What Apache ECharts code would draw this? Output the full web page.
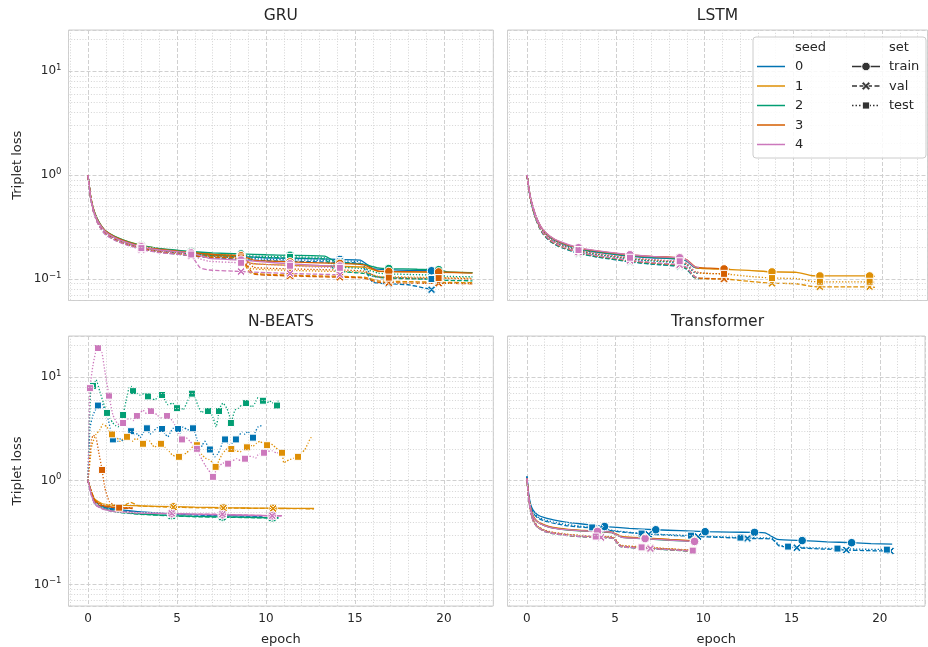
<!DOCTYPE html>
<html><head><meta charset="utf-8">
<script src="https://cdn.jsdelivr.net/npm/echarts@6/dist/echarts.min.js"></script>
<style>html,body{margin:0;padding:0;background:#fff}#c{width:928px;height:647px}</style>
</head><body><div id="c"></div>
<script>
// ---------------- categories ----------------
const PANELS = ['GRU', 'LSTM', 'N-BEATS', 'Transformer'];
const SEEDS = ['0', '1', '2', '3', '4'];
const SETS = ['train', 'val', 'test'];
const Y_TICKS = [0.1, 1, 10];

// ---------------- GRU ----------------
const GRU_train = [
  [[0,1.0],[0.15,0.62],[0.3,0.47],[0.5,0.38],[0.75,0.32],[1,0.285],[1.5,0.252],[2,0.232],[3,0.205],[4,0.192],[5.8,0.178],[7,0.17],[8.6,0.164],[10,0.16],[11.35,0.158],[13,0.156],[14.15,0.154],[15.3,0.152],[16,0.126],[16.9,0.123],[18,0.121],[19.3,0.12]],
  [[0,1.0],[0.15,0.63],[0.3,0.48],[0.5,0.385],[0.75,0.325],[1,0.29],[1.5,0.256],[2,0.236],[3,0.21],[4,0.196],[5.8,0.181],[7,0.173],[8.6,0.166],[9.1,0.142],[10,0.138],[11.35,0.135],[13,0.133],[14.15,0.132],[15.5,0.13],[16.3,0.119],[16.9,0.118],[18.5,0.117],[19.7,0.116],[21.6,0.115]],
  [[0,1.0],[0.15,0.62],[0.3,0.475],[0.5,0.385],[0.75,0.325],[1,0.29],[1.5,0.257],[2,0.237],[3,0.21],[4,0.197],[5.8,0.184],[7,0.178],[8.6,0.174],[10,0.171],[11.35,0.169],[13.3,0.166],[13.9,0.147],[14.15,0.144],[15.5,0.138],[16.3,0.128],[16.9,0.126],[18.5,0.124],[19.7,0.123],[20.2,0.117],[21.6,0.115]],
  [[0,1.0],[0.15,0.62],[0.3,0.47],[0.5,0.38],[0.75,0.322],[1,0.287],[1.5,0.254],[2,0.234],[3,0.207],[4,0.194],[5.8,0.179],[7,0.172],[8.6,0.167],[9.3,0.152],[10,0.149],[11.35,0.146],[13,0.143],[14.15,0.141],[15.5,0.137],[16.3,0.119],[16.9,0.118],[18.5,0.117],[19.7,0.117],[21.6,0.114]],
  [[0,1.0],[0.15,0.61],[0.3,0.465],[0.5,0.375],[0.75,0.318],[1,0.283],[1.5,0.25],[2,0.23],[3,0.204],[4,0.19],[5.8,0.178],[6.3,0.168],[6.8,0.158],[8.6,0.152],[10,0.145],[11.35,0.14],[13,0.135],[14.15,0.133]]
];
const GRU_val = [
  [[0,0.98],[0.15,0.6],[0.3,0.45],[0.5,0.36],[0.75,0.3],[1,0.268],[1.5,0.238],[2,0.219],[3,0.194],[4,0.181],[5.8,0.167],[7,0.16],[8.6,0.154],[10,0.15],[11.35,0.148],[13,0.146],[14.15,0.144],[15.3,0.141],[16,0.093],[16.9,0.09],[18,0.088],[18.6,0.084],[19.3,0.079]],
  [[0,0.98],[0.15,0.61],[0.3,0.46],[0.5,0.365],[0.75,0.305],[1,0.272],[1.5,0.242],[2,0.222],[3,0.198],[4,0.185],[5.8,0.17],[7,0.163],[8.6,0.157],[9.1,0.115],[10,0.111],[11.35,0.109],[13,0.107],[14.15,0.106],[15.5,0.104],[16.3,0.096],[16.9,0.095],[18.5,0.094],[19.7,0.093],[21.6,0.092]],
  [[0,0.98],[0.15,0.6],[0.3,0.455],[0.5,0.365],[0.75,0.305],[1,0.272],[1.5,0.243],[2,0.223],[3,0.198],[4,0.186],[5.8,0.173],[7,0.168],[8.6,0.164],[10,0.161],[11.35,0.159],[13.3,0.155],[13.9,0.12],[14.15,0.118],[15.5,0.113],[16.3,0.104],[16.9,0.102],[18.5,0.1],[19.7,0.099],[20.2,0.097],[21.6,0.096]],
  [[0,0.98],[0.15,0.6],[0.3,0.45],[0.5,0.36],[0.75,0.302],[1,0.27],[1.5,0.24],[2,0.221],[3,0.196],[4,0.183],[5.8,0.168],[7,0.161],[8.6,0.156],[9.3,0.112],[10,0.109],[11.35,0.107],[13,0.105],[14.15,0.104],[15.5,0.102],[16.3,0.093],[16.9,0.092],[18.5,0.091],[19.7,0.091],[21.6,0.09]],
  [[0,0.98],[0.15,0.59],[0.3,0.445],[0.5,0.355],[0.75,0.298],[1,0.265],[1.5,0.236],[2,0.217],[3,0.192],[4,0.179],[5.8,0.166],[6.3,0.128],[6.8,0.122],[8.6,0.118],[10,0.115],[11.35,0.113],[13,0.111],[14.15,0.11]]
];
const GRU_test = [
  [[0,0.99],[0.15,0.61],[0.3,0.46],[0.5,0.37],[0.75,0.31],[1,0.276],[1.5,0.245],[2,0.226],[3,0.2],[4,0.187],[5.8,0.172],[7,0.165],[8.6,0.159],[10,0.155],[11.35,0.153],[13,0.151],[14.15,0.149],[15.3,0.146],[16,0.106],[16.9,0.104],[18,0.102],[19.3,0.1]],
  [[0,0.99],[0.15,0.62],[0.3,0.47],[0.5,0.375],[0.75,0.315],[1,0.28],[1.5,0.249],[2,0.229],[3,0.204],[4,0.19],[5.8,0.175],[7,0.168],[8.6,0.162],[9.1,0.127],[10,0.123],[11.35,0.121],[13,0.119],[14.15,0.118],[15.5,0.116],[16.3,0.106],[16.9,0.105],[18.5,0.104],[19.7,0.103],[21.6,0.102]],
  [[0,0.99],[0.15,0.61],[0.3,0.465],[0.5,0.375],[0.75,0.315],[1,0.281],[1.5,0.25],[2,0.23],[3,0.204],[4,0.191],[5.8,0.178],[7,0.172],[8.6,0.168],[10,0.165],[11.35,0.163],[13.3,0.16],[13.9,0.132],[14.15,0.13],[15.5,0.125],[16.3,0.114],[16.9,0.112],[18.5,0.11],[19.7,0.109],[20.2,0.106],[21.6,0.105]],
  [[0,0.99],[0.15,0.61],[0.3,0.46],[0.5,0.37],[0.75,0.312],[1,0.278],[1.5,0.247],[2,0.227],[3,0.201],[4,0.188],[5.8,0.173],[7,0.166],[8.6,0.161],[9.3,0.13],[10,0.127],[11.35,0.125],[13,0.123],[14.15,0.122],[15.5,0.119],[16.3,0.104],[16.9,0.103],[18.5,0.102],[19.7,0.102],[21.6,0.1]],
  [[0,0.99],[0.15,0.6],[0.3,0.455],[0.5,0.365],[0.75,0.308],[1,0.274],[1.5,0.243],[2,0.223],[3,0.198],[4,0.185],[5.8,0.172],[6.3,0.156],[6.8,0.148],[8.6,0.143],[10,0.138],[11.35,0.134],[13,0.13],[14.15,0.128]]
];
const GRU_MARKS_A = [3.0, 5.8, 8.6, 11.35, 14.15, 16.9, 19.7];
const GRU_MARKS_0 = [3.0, 5.8, 8.6, 11.35, 14.15, 16.9, 19.3];
const GRU_marks = [GRU_MARKS_0, GRU_MARKS_A, GRU_MARKS_A, GRU_MARKS_A, GRU_MARKS_A];

// ---------------- LSTM ----------------
const LSTM_train = [
  [[0,1.0],[0.1,0.74],[0.2,0.59],[0.35,0.47],[0.5,0.395],[0.7,0.33],[0.9,0.29],[1.3,0.25],[1.8,0.224],[2.9,0.193],[4,0.18],[5.8,0.165],[7,0.16],[8.6,0.155],[9,0.148],[9.4,0.13],[9.7,0.127]],
  [[0,1.0],[0.1,0.75],[0.2,0.6],[0.35,0.48],[0.5,0.4],[0.7,0.335],[0.9,0.295],[1.3,0.255],[1.8,0.228],[2.9,0.197],[4,0.184],[5.8,0.169],[7,0.164],[8.6,0.159],[9,0.152],[9.5,0.128],[11.1,0.124],[12.5,0.121],[13.8,0.117],[15.2,0.116],[16,0.108],[16.5,0.107],[18,0.107],[19.3,0.107],[19.6,0.106]],
  [[0,1.0],[0.1,0.745],[0.2,0.595],[0.35,0.475],[0.5,0.398],[0.7,0.333],[0.9,0.293],[1.3,0.253],[1.8,0.226],[2.9,0.195],[4,0.182],[5.8,0.167],[7,0.162],[8.6,0.157],[9,0.15],[9.4,0.131],[9.7,0.128]],
  [[0,1.0],[0.1,0.75],[0.2,0.6],[0.35,0.48],[0.5,0.402],[0.7,0.336],[0.9,0.296],[1.3,0.256],[1.8,0.229],[2.9,0.198],[4,0.185],[5.8,0.17],[7,0.165],[8.6,0.16],[9,0.153],[9.5,0.13],[10.3,0.127],[11.1,0.125],[11.4,0.125]],
  [[0,1.0],[0.1,0.76],[0.2,0.61],[0.35,0.49],[0.5,0.405],[0.7,0.34],[0.9,0.3],[1.3,0.258],[1.8,0.231],[2.9,0.2],[4,0.186],[5.8,0.171],[7,0.165],[8.6,0.16],[9,0.152],[9.4,0.132],[9.7,0.129]]
];
const LSTM_val = [
  [[0,1.0],[0.1,0.73],[0.2,0.57],[0.35,0.45],[0.5,0.375],[0.7,0.31],[0.9,0.27],[1.3,0.23],[1.8,0.205],[2.9,0.176],[4,0.162],[5.8,0.146],[7,0.139],[8.6,0.132],[9,0.124],[9.4,0.104],[9.7,0.1]],
  [[0,1.0],[0.1,0.74],[0.2,0.58],[0.35,0.46],[0.5,0.38],[0.7,0.315],[0.9,0.275],[1.3,0.234],[1.8,0.208],[2.9,0.179],[4,0.165],[5.8,0.149],[7,0.142],[8.6,0.135],[9,0.127],[9.5,0.102],[11.1,0.1],[12.5,0.095],[13.8,0.091],[15.2,0.09],[16,0.085],[16.5,0.084],[18,0.084],[19.3,0.084],[19.6,0.083]],
  [[0,1.0],[0.1,0.735],[0.2,0.575],[0.35,0.455],[0.5,0.378],[0.7,0.313],[0.9,0.273],[1.3,0.232],[1.8,0.207],[2.9,0.177],[4,0.163],[5.8,0.147],[7,0.14],[8.6,0.133],[9,0.125],[9.4,0.105],[9.7,0.101]],
  [[0,1.0],[0.1,0.74],[0.2,0.58],[0.35,0.46],[0.5,0.382],[0.7,0.316],[0.9,0.276],[1.3,0.235],[1.8,0.209],[2.9,0.18],[4,0.166],[5.8,0.15],[7,0.143],[8.6,0.136],[9,0.128],[9.5,0.104],[10.3,0.101],[11.1,0.1],[11.4,0.1]],
  [[0,1.0],[0.1,0.745],[0.2,0.585],[0.35,0.465],[0.5,0.385],[0.7,0.318],[0.9,0.278],[1.3,0.237],[1.8,0.211],[2.9,0.181],[4,0.167],[5.8,0.151],[7,0.144],[8.6,0.137],[9,0.129],[9.4,0.106],[9.7,0.102]]
];
const LSTM_test = [
  [[0,1.0],[0.1,0.735],[0.2,0.58],[0.35,0.46],[0.5,0.385],[0.7,0.32],[0.9,0.28],[1.3,0.24],[1.8,0.214],[2.9,0.184],[4,0.171],[5.8,0.155],[7,0.149],[8.6,0.143],[9,0.136],[9.4,0.116],[9.7,0.112]],
  [[0,1.0],[0.1,0.745],[0.2,0.59],[0.35,0.47],[0.5,0.39],[0.7,0.325],[0.9,0.285],[1.3,0.244],[1.8,0.217],[2.9,0.187],[4,0.174],[5.8,0.158],[7,0.152],[8.6,0.146],[9,0.139],[9.5,0.115],[11.1,0.112],[12.5,0.106],[13.8,0.102],[15.2,0.101],[16,0.095],[16.5,0.094],[18,0.094],[19.3,0.094],[19.6,0.093]],
  [[0,1.0],[0.1,0.74],[0.2,0.585],[0.35,0.465],[0.5,0.388],[0.7,0.323],[0.9,0.283],[1.3,0.242],[1.8,0.216],[2.9,0.186],[4,0.172],[5.8,0.156],[7,0.15],[8.6,0.144],[9,0.137],[9.4,0.117],[9.7,0.113]],
  [[0,1.0],[0.1,0.745],[0.2,0.59],[0.35,0.47],[0.5,0.392],[0.7,0.326],[0.9,0.286],[1.3,0.245],[1.8,0.218],[2.9,0.188],[4,0.175],[5.8,0.159],[7,0.153],[8.6,0.147],[9,0.14],[9.5,0.117],[10.3,0.113],[11.1,0.112],[11.4,0.112]],
  [[0,1.0],[0.1,0.75],[0.2,0.595],[0.35,0.475],[0.5,0.395],[0.7,0.328],[0.9,0.288],[1.3,0.247],[1.8,0.22],[2.9,0.19],[4,0.176],[5.8,0.16],[7,0.154],[8.6,0.148],[9,0.141],[9.4,0.118],[9.7,0.114]]
];
const LSTM_MARKS_A = [2.9, 5.8, 8.6, 11.1, 13.8, 16.5, 19.3];
const LSTM_marks = [LSTM_MARKS_A, LSTM_MARKS_A, LSTM_MARKS_A, LSTM_MARKS_A, LSTM_MARKS_A];

// ---------------- N-BEATS ----------------
const NBEATS_train = [
  [[0,1.0],[0.2,0.76],[0.4,0.63],[0.8,0.57],[1.3,0.54],[2,0.52],[3,0.5],[4.7,0.48],[6,0.472],[7.55,0.465],[9,0.46],[9.8,0.458]],
  [[0,1.0],[0.2,0.78],[0.4,0.66],[0.8,0.6],[1.3,0.585],[2,0.578],[3,0.572],[4.8,0.562],[6,0.556],[7.6,0.55],[9,0.546],[10.4,0.544],[11.5,0.542],[12.7,0.54]],
  [[0,1.0],[0.2,0.74],[0.4,0.6],[0.8,0.545],[1.3,0.515],[2,0.495],[3,0.478],[4.7,0.462],[6,0.453],[7.55,0.448],[9,0.444],[10.35,0.44],[10.7,0.44]],
  [[0,1.0],[0.2,0.77],[0.4,0.64],[0.8,0.58],[1.3,0.56],[1.8,0.55],[2.5,0.545]],
  [[0,1.0],[0.2,0.72],[0.4,0.6],[0.8,0.54],[1.3,0.512],[2,0.5],[3,0.49],[4.7,0.482],[6,0.476],[7.55,0.47],[9,0.465],[10.35,0.46],[10.9,0.46]]
];
const NBEATS_val = [
  [[0,1.0],[0.2,0.75],[0.4,0.62],[0.8,0.56],[1.3,0.53],[2,0.51],[3,0.495],[4.7,0.475],[6,0.468],[7.55,0.46],[9,0.456],[9.8,0.454]],
  [[0,1.0],[0.2,0.77],[0.4,0.65],[0.8,0.59],[1.3,0.58],[2,0.575],[2.4,0.62],[2.8,0.575],[3,0.57],[4.8,0.556],[6,0.55],[7.6,0.545],[9,0.543],[10.4,0.54],[11.5,0.538],[12.7,0.537]],
  [[0,1.0],[0.2,0.73],[0.4,0.59],[0.8,0.54],[1.3,0.51],[2,0.49],[3,0.474],[4.7,0.458],[6,0.45],[7.55,0.445],[9,0.441],[10.35,0.437],[10.7,0.437]],
  [[0,1.0],[0.2,0.76],[0.4,0.63],[0.8,0.57],[1.3,0.555],[1.8,0.545],[2.5,0.54]],
  [[0,1.0],[0.2,0.71],[0.4,0.59],[0.8,0.535],[1.3,0.508],[2,0.496],[3,0.487],[4.7,0.485],[6,0.476],[7.55,0.475],[9,0.466],[10.35,0.46],[10.9,0.458]]
];
const NBEATS_test = [
  [[0,1.0],[0.11,3.2],[0.28,4.3],[0.56,5.3],[0.79,5.4],[1.07,4.3],[1.25,3.2],[1.4,2.5],[1.55,2.7],[1.69,2.4],[1.83,2.55],[1.97,2.4],[2.19,2.7],[2.42,3.0],[2.64,2.77],[2.78,2.85],[2.92,2.6],[3.1,2.9],[3.31,3.2],[3.48,2.8],[3.65,2.96],[3.9,3.25],[4.16,3.15],[4.32,2.85],[4.49,2.65],[4.62,2.9],[4.78,3.2],[5.06,3.15],[5.2,2.9],[5.34,3.3],[5.6,3.1],[5.9,3.2],[6.1,2.6],[6.29,2.0],[6.42,2.2],[6.57,2.4],[6.7,2.2],[6.85,2.0],[7.0,1.85],[7.13,1.7],[7.28,1.8],[7.42,2.0],[7.58,2.4],[7.7,2.5],[7.85,2.3],[7.98,2.2],[8.15,2.35],[8.31,2.5],[8.48,2.7],[8.65,2.96],[8.82,2.8],[8.99,3.0],[9.13,2.75],[9.27,2.6],[9.4,2.95],[9.55,3.3],[9.78,3.4]],
  [[0,1.0],[0.22,2.2],[0.45,2.8],[0.67,3.1],[0.84,3.5],[1.07,3.3],[1.2,2.95],[1.35,2.8],[1.5,2.7],[1.63,2.6],[1.8,2.4],[2.0,2.55],[2.19,2.65],[2.36,2.5],[2.53,2.4],[2.67,2.55],[2.81,2.5],[2.95,2.35],[3.09,2.27],[3.28,2.45],[3.48,2.4],[3.62,2.2],[3.76,2.1],[3.93,2.3],[4.1,2.27],[4.27,2.15],[4.44,2.0],[4.58,1.9],[4.72,1.78],[4.9,1.72],[5.11,1.7],[5.34,1.78],[5.53,1.85],[5.73,2.0],[5.92,2.15],[6.12,2.2],[6.26,1.95],[6.4,1.78],[6.6,1.65],[6.8,1.6],[7.0,1.5],[7.17,1.36],[7.35,1.55],[7.53,1.8],[7.7,1.95],[7.87,2.07],[8.05,2.02],[8.3,1.95],[8.55,1.9],[8.74,2.0],[8.93,2.1],[9.1,2.2],[9.27,2.15],[9.47,2.3],[9.66,2.4],[9.86,2.25],[10.06,2.2],[10.22,2.3],[10.39,2.2],[10.53,2.1],[10.67,2.0],[10.9,1.86],[11.0,1.49],[11.17,1.55],[11.35,1.6],[11.58,1.65],[11.8,1.7],[12.0,1.85],[12.19,2.0],[12.36,2.3],[12.53,2.6],[12.64,2.5]],
  [[0,1.0],[0.17,8.4],[0.28,8.2],[0.45,9.4],[0.67,7.2],[0.87,5.6],[1.07,4.5],[1.23,4.0],[1.4,3.6],[1.55,3.4],[1.69,3.3],[1.83,3.8],[1.97,4.3],[2.13,5.8],[2.3,7.8],[2.42,8.1],[2.53,7.3],[2.72,7.0],[2.92,6.7],[3.15,6.9],[3.37,6.5],[3.56,6.2],[3.76,6.0],[3.95,6.5],[4.16,6.7],[4.32,6.0],[4.49,5.4],[4.75,5.6],[5.0,5.0],[5.17,5.2],[5.34,4.8],[5.6,5.9],[5.84,6.9],[6.01,6.3],[6.2,5.2],[6.4,4.5],[6.57,4.9],[6.74,4.7],[6.88,4.5],[7.02,4.1],[7.2,3.3],[7.36,4.7],[7.47,5.3],[7.58,5.6],[7.8,5.0],[7.95,4.2],[8.03,3.6],[8.15,4.2],[8.26,4.8],[8.45,5.0],[8.65,5.4],[8.88,5.6],[9.05,5.5],[9.21,5.1],[9.38,5.6],[9.55,6.3],[9.7,6.1],[9.83,5.9],[9.95,5.7],[10.06,5.6],[10.2,5.9],[10.34,5.7],[10.48,5.5],[10.62,5.3],[10.7,6.1]],
  [[0,1.0],[0.1,1.7],[0.2,2.5],[0.3,2.75],[0.45,2.6],[0.6,1.9],[0.79,1.27],[0.95,0.85],[1.2,0.63],[1.75,0.55],[2.5,0.55]],
  [[0,1.0],[0.11,7.8],[0.28,13],[0.42,17],[0.56,19],[0.68,18.5],[0.79,17],[0.96,11],[1.18,6.6],[1.4,4.3],[1.63,3.6],[1.8,3.4],[1.97,3.6],[2.17,3.9],[2.36,4.0],[2.55,3.8],[2.75,4.2],[2.92,4.5],[3.09,4.8],[3.3,4.4],[3.54,4.7],[3.7,4.6],[3.88,4.3],[4.15,4.0],[4.44,4.2],[4.6,4.0],[4.78,3.7],[5.05,3.0],[5.28,2.5],[5.5,2.6],[5.73,2.4],[5.92,2.2],[6.12,2.03],[6.25,1.8],[6.4,1.6],[6.57,1.42],[6.74,1.28],[6.88,1.2],[7.02,1.09],[7.13,1.2],[7.25,1.28],[7.42,1.4],[7.58,1.49],[7.72,1.42],[7.87,1.46],[8.1,1.55],[8.37,1.63],[8.6,1.55],[8.82,1.63],[9.05,1.72],[9.27,1.7],[9.42,1.65],[9.55,1.78],[9.72,1.82],[9.89,1.86],[10.1,1.92],[10.34,1.94],[10.6,1.85],[10.9,1.9]]
];
const NBEATS_fitMarks = [[4.7,7.55],[4.8,7.6,10.4],[4.7,7.55,10.35],[],[4.7,7.55,10.35]];
const NBEATS_testMarks = [
  [0.56,1.4,2.42,3.31,4.16,5.06,5.9,6.85,7.7,8.31,9.27],
  [1.35,2.19,3.09,4.1,5.11,6.12,7.17,8.05,8.93,10.06,10.9,11.8],
  [0.28,1.07,1.97,2.53,3.37,4.16,5.0,5.84,6.74,7.36,8.03,8.88,9.83,10.62],
  [0.79,1.75],
  [0.11,0.56,1.18,1.97,2.75,3.54,4.44,5.28,6.12,7.02,7.87,8.82,9.89]
];

// ---------------- Transformer ----------------
const TRF_train = [
  [[0,1.1],[0.1,0.75],[0.2,0.6],[0.35,0.52],[0.6,0.47],[1,0.44],[1.5,0.42],[2.2,0.4],[3,0.385],[4.4,0.362],[5.8,0.348],[7.3,0.337],[8.7,0.33],[10.1,0.323],[11.5,0.32],[12.9,0.318],[13.5,0.315],[14.2,0.272],[15.6,0.265],[17,0.258],[18.4,0.253],[19.5,0.248],[20.7,0.245]],
  [[0,1.05],[0.1,0.71],[0.2,0.56],[0.35,0.46],[0.6,0.405],[1,0.375],[1.5,0.355],[2.2,0.342],[3,0.334],[4.0,0.328],[4.8,0.32],[5.4,0.29],[6.7,0.281],[8.1,0.272],[9.5,0.264],[9.6,0.263]],
  [[0,1.05],[0.1,0.7],[0.2,0.55],[0.35,0.452],[0.6,0.4],[1,0.37],[1.5,0.35],[2.2,0.337],[3,0.329],[4.0,0.323],[4.8,0.316],[5.4,0.284],[6.7,0.276],[8.1,0.267],[9.5,0.259],[9.6,0.258]],
  [[0,1.05],[0.1,0.7],[0.2,0.552],[0.35,0.455],[0.6,0.402],[1,0.372],[1.5,0.352],[2.2,0.34],[3,0.331],[4.0,0.326],[4.8,0.318],[5.4,0.287],[6.7,0.279],[8.1,0.27],[9.5,0.262],[9.6,0.261]],
  [[0,1.05],[0.1,0.7],[0.2,0.55],[0.35,0.45],[0.6,0.4],[1,0.37],[1.5,0.35],[2.2,0.338],[3,0.33],[4.0,0.325],[4.8,0.318],[5.4,0.285],[6.7,0.277],[8.1,0.268],[9.5,0.26],[9.6,0.26]]
];
const TRF_val = [
  [[0,1.1],[0.1,0.72],[0.2,0.57],[0.35,0.49],[0.6,0.44],[1,0.41],[1.5,0.39],[2.2,0.37],[3,0.358],[4.1,0.345],[5,0.325],[6.9,0.305],[8.3,0.297],[9.7,0.29],[11.1,0.284],[12.5,0.278],[13.9,0.273],[14.3,0.235],[15.3,0.226],[16.7,0.22],[18.1,0.215],[19.3,0.212],[20.6,0.21]],
  [[0,1.05],[0.1,0.68],[0.2,0.52],[0.35,0.42],[0.6,0.36],[1,0.33],[1.5,0.313],[2.2,0.301],[3,0.293],[4.2,0.287],[4.9,0.281],[5.3,0.236],[7.0,0.225],[8.1,0.219],[9.6,0.211]],
  [[0,1.05],[0.1,0.67],[0.2,0.51],[0.35,0.41],[0.6,0.355],[1,0.325],[1.5,0.309],[2.2,0.297],[3,0.289],[4.2,0.283],[4.9,0.277],[5.3,0.232],[7.0,0.221],[8.1,0.215],[9.6,0.207]],
  [[0,1.05],[0.1,0.675],[0.2,0.515],[0.35,0.415],[0.6,0.357],[1,0.328],[1.5,0.311],[2.2,0.299],[3,0.291],[4.2,0.285],[4.9,0.279],[5.3,0.234],[7.0,0.223],[8.1,0.217],[9.6,0.209]],
  [[0,1.05],[0.1,0.67],[0.2,0.51],[0.35,0.41],[0.6,0.355],[1,0.325],[1.5,0.31],[2.2,0.298],[3,0.29],[4.2,0.284],[4.9,0.278],[5.3,0.233],[7.0,0.222],[8.1,0.216],[9.6,0.208]]
];
const TRF_test = [
  [[0,1.1],[0.1,0.72],[0.2,0.58],[0.35,0.5],[0.6,0.45],[1,0.42],[1.5,0.4],[2.2,0.38],[3,0.365],[3.7,0.355],[5,0.33],[6.5,0.31],[7.9,0.302],[9.3,0.296],[10.7,0.29],[12.1,0.283],[13.9,0.278],[14.3,0.24],[14.8,0.232],[16.2,0.226],[17.6,0.222],[19,0.219],[20.4,0.217],[20.7,0.214]],
  [[0,1.05],[0.1,0.69],[0.2,0.53],[0.35,0.43],[0.6,0.365],[1,0.335],[1.5,0.318],[2.2,0.306],[3,0.298],[3.9,0.293],[4.9,0.286],[5.3,0.24],[6.5,0.231],[7.9,0.222],[9.4,0.214],[9.6,0.213]],
  [[0,1.05],[0.1,0.68],[0.2,0.52],[0.35,0.42],[0.6,0.36],[1,0.33],[1.5,0.314],[2.2,0.302],[3,0.294],[3.9,0.289],[4.9,0.282],[5.3,0.236],[6.5,0.227],[7.9,0.219],[9.4,0.211],[9.6,0.21]],
  [[0,1.05],[0.1,0.685],[0.2,0.525],[0.35,0.425],[0.6,0.362],[1,0.333],[1.5,0.316],[2.2,0.304],[3,0.296],[3.9,0.291],[4.9,0.284],[5.3,0.238],[6.5,0.229],[7.9,0.221],[9.4,0.213],[9.6,0.212]],
  [[0,1.05],[0.1,0.68],[0.2,0.52],[0.35,0.42],[0.6,0.36],[1,0.33],[1.5,0.315],[2.2,0.303],[3,0.295],[3.9,0.29],[4.9,0.283],[5.3,0.237],[6.5,0.228],[7.9,0.22],[9.4,0.212],[9.6,0.21]]
];
const TRF_trainMarks = [[4.4,7.3,10.1,12.9,15.6,18.4],[4.0,6.7,9.5],[4.0,6.7,9.5],[4.0,6.7,9.5],[4.0,6.7,9.5]];
const TRF_valMarks = [[4.1,6.9,9.7,12.5,15.3,18.1,20.6],[4.2,7.0],[4.2,7.0],[4.2,7.0],[4.2,7.0]];
const TRF_testMarks = [[3.7,6.5,9.3,12.1,14.8,17.6,20.4],[3.9,6.5,9.4],[3.9,6.5,9.4],[3.9,6.5,9.4],[3.9,6.5,9.4]];

// ---------------- assembly ----------------
const DATA = [
  [GRU_train, GRU_val, GRU_test],
  [LSTM_train, LSTM_val, LSTM_test],
  [NBEATS_train, NBEATS_val, NBEATS_test],
  [TRF_train, TRF_val, TRF_test]
];
const MARKS = [
  [GRU_marks, GRU_marks, GRU_marks],
  [LSTM_marks, LSTM_marks, LSTM_marks],
  [NBEATS_fitMarks, NBEATS_fitMarks, NBEATS_testMarks],
  [TRF_trainMarks, TRF_valMarks, TRF_testMarks]
];

const COLORS = ['#0173b2', '#de8f05', '#029e73', '#d55e00', '#cc78bc'];
const TXT = '#262626';
const FONT = 'DejaVu Sans';
const X_PATH = 'path://M0,2 L2,0 L5,3 L8,0 L10,2 L7,5 L10,8 L8,10 L5,7 L2,10 L0,8 L3,5 Z';
const SET_STYLE = [
  {dash: 'solid', symbol: 'circle', size: 8.5},
  {dash: [4.5, 2], symbol: X_PATH, size: 8},
  {dash: [1.3, 1.8], symbol: 'rect', size: 7}
];
const YMIN = 0.0621, YMAX = 24.8;
const XRANGE = [[-1.095, 22.77], [-1.1, 22.56]];
const GRIDS = [
  {left: 68.5, top: 30, width: 424.8, height: 270.5},
  {left: 507.5, top: 30, width: 420, height: 270.5},
  {left: 68.5, top: 336, width: 424.8, height: 270.5},
  {left: 507.5, top: 336, width: 420, height: 270.5}
];

const Y_MINOR = [];
for (let e = -2; e <= 1; e++) for (let m = 2; m <= 9; m++) {
  const v = m * Math.pow(10, e);
  if (v > YMIN && v < YMAX) Y_MINOR.push(v);
}

function isMark(list, x) { return list.some(m => Math.abs(m - x) < 1e-6); }

const series = [];
GRIDS.forEach((g, p) => {
  series.push({
    type: 'line', xAxisIndex: p, yAxisIndex: p, data: [], silent: true, z: 1,
    markLine: {
      silent: true, symbol: ['none', 'none'], label: {show: false}, animation: false,
      emphasis: {disabled: true},
      lineStyle: {color: '#d4d4d4', width: 1, type: [1, 1.8]},
      data: Y_MINOR.map(v => ({yAxis: v}))
    }
  });
});
PANELS.forEach((panel, p) => {
  SEEDS.forEach((seed, s) => {
    SETS.forEach((set, k) => {
      const st = SET_STYLE[k];
      const marks = MARKS[p][k][s];
      series.push({
        name: 'seed ' + seed + ' ' + set,
        type: 'line', xAxisIndex: p, yAxisIndex: p,
        data: DATA[p][k][s],
        smooth: 0.15,
        showSymbol: true, showAllSymbol: true,
        symbol: st.symbol,
        symbolSize: (val) => isMark(marks, val[0]) ? st.size : 0,
        lineStyle: {color: COLORS[s], width: 1.3, type: st.dash},
        itemStyle: {color: COLORS[s], borderColor: '#ffffff', borderWidth: 1},
        emphasis: {disabled: true},
        z: 2
      });
    });
  });
});

function yFmt(v) {
  const e = Math.log10(v);
  const r = Math.round(e);
  if (Math.abs(e - r) > 1e-6) return '';
  return '{b|10}{e|' + (r < 0 ? '\u2212' + (-r) : String(r)) + '}';
}
function xFmt(v) {
  return Math.abs(v - Math.round(v)) < 1e-6 ? String(Math.round(v)) : '';
}

const LF = '13px "DejaVu Sans"';
const legendGraphics = [];
legendGraphics.push({type: 'rect', shape: {x: 753, y: 37, width: 173, height: 121, r: 3},
  style: {fill: 'rgba(255,255,255,0.85)', stroke: '#cccccc', lineWidth: 1}, z: 100});
legendGraphics.push({type: 'text', x: 795, y: 47.5, style: {text: 'seed', fill: TXT, font: LF, textVerticalAlign: 'middle'}, z: 101});
legendGraphics.push({type: 'text', x: 889, y: 47.5, style: {text: 'set', fill: TXT, font: LF, textVerticalAlign: 'middle'}, z: 101});
SEEDS.forEach((sd, i) => {
  const y = 66.5 + i * 19.5;
  legendGraphics.push({type: 'line', shape: {x1: 757, y1: y, x2: 785, y2: y}, style: {stroke: COLORS[i], lineWidth: 1.5}, z: 101});
  legendGraphics.push({type: 'text', x: 795, y: y + 0.5, style: {text: sd, fill: TXT, font: LF, textVerticalAlign: 'middle'}, z: 101});
});
SETS.forEach((st, i) => {
  const y = 66.5 + i * 19.5;
  legendGraphics.push({type: 'line', shape: {x1: 852, y1: y, x2: 880, y2: y},
    style: {stroke: '#333333', lineWidth: 1.5, lineDash: i === 0 ? null : (i === 1 ? [5, 2.5] : [1.5, 2])}, z: 101});
  let mk;
  if (i === 0) mk = {type: 'circle', shape: {cx: 866, cy: y, r: 4.3}, style: {fill: '#333333', stroke: '#fff', lineWidth: 1}, z: 102};
  else if (i === 1) mk = {type: 'polygon', shape: {points: [[-5,-3],[-3,-5],[0,-2],[3,-5],[5,-3],[2,0],[5,3],[3,5],[0,2],[-3,5],[-5,3],[-2,0]].map(q => [866 + q[0] * 0.85, y + q[1] * 0.85])}, style: {fill: '#333333', stroke: '#fff', lineWidth: 0.8}, z: 102};
  else mk = {type: 'rect', shape: {x: 862.5, y: y - 3.5, width: 7, height: 7}, style: {fill: '#333333', stroke: '#fff', lineWidth: 0.8}, z: 102};
  legendGraphics.push(mk);
  legendGraphics.push({type: 'text', x: 889, y: y + 0.5, style: {text: st, fill: TXT, font: LF, textVerticalAlign: 'middle'}, z: 101});
});

const option = {
  animation: false,
  backgroundColor: '#ffffff',
  textStyle: {fontFamily: FONT, color: TXT},
  title: PANELS.map((t, i) => ({
    text: t, left: GRIDS[i].left + GRIDS[i].width / 2, top: i < 2 ? 8 : 314,
    textAlign: 'center', padding: 0,
    textStyle: {fontSize: 15.5, fontWeight: 'normal', color: TXT, fontFamily: FONT}
  })),
  grid: GRIDS.map(g => Object.assign({show: true, borderColor: '#cccccc', borderWidth: 1, backgroundColor: 'transparent', containLabel: false}, g)),
  xAxis: GRIDS.map((g, i) => ({
    gridIndex: i, type: 'value', min: XRANGE[i % 2][0], max: XRANGE[i % 2][1], splitNumber: 5,
    axisLine: {show: false}, axisTick: {show: false},
    axisLabel: {show: i >= 2, color: TXT, fontSize: 12, fontFamily: FONT, margin: 7, formatter: xFmt},
    splitLine: {show: true, lineStyle: {color: '#d0d0d0', width: 1, type: [4, 2]}},
    minorTick: {show: false, splitNumber: 5},
    minorSplitLine: {show: true, lineStyle: {color: '#d4d4d4', width: 1, type: [1, 1.8]}},
    name: i >= 2 ? 'epoch' : '', nameLocation: 'middle', nameGap: 27,
    nameTextStyle: {color: TXT, fontSize: 13, fontFamily: FONT}
  })),
  yAxis: GRIDS.map((g, i) => ({
    gridIndex: i, type: 'log', logBase: 10, min: YMIN, max: YMAX,
    axisLine: {show: false}, axisTick: {show: false},
    axisLabel: {show: i % 2 === 0, margin: 7, formatter: yFmt,
      rich: {
        b: {fontSize: 12, color: TXT, fontFamily: FONT},
        e: {fontSize: 8.5, color: TXT, fontFamily: FONT, padding: [0, 0, 7, 0]}
      }},
    splitLine: {show: true, lineStyle: {color: '#d0d0d0', width: 1, type: [4, 2]}},
    name: i % 2 === 0 ? 'Triplet loss' : '', nameLocation: 'middle', nameGap: 44, nameRotate: 90,
    nameTextStyle: {color: TXT, fontSize: 13, fontFamily: FONT}
  })),
  graphic: legendGraphics,
  series: series
};

const chart = echarts.init(document.getElementById('c'), null, {renderer: 'canvas'});
chart.setOption(option);
</script>
</body></html>
